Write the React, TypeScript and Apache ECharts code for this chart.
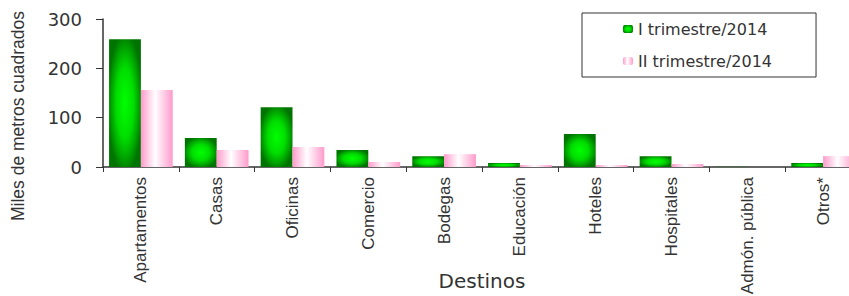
import React, { useEffect, useRef } from "react";
import * as echarts from "echarts";

const categories = [
  "Apartamentos",
  "Casas",
  "Oficinas",
  "Comercio",
  "Bodegas",
  "Educación",
  "Hoteles",
  "Hospitales",
  "Admón. pública",
  "Otros*",
];
const seriesNames = ["I trimestre/2014", "II trimestre/2014"];
const trim1 = [259, 59, 121, 34.5, 22, 8, 67, 22, 0.6, 8];
const trim2 = [156, 34.5, 40.5, 10, 26, 4, 4, 6, 0, 22];
const yTicks = { min: 0, max: 300, interval: 100 };

export default function App() {
  const ref = useRef<HTMLDivElement>(null);
  useEffect(() => {
    if (!ref.current) return;
    const chart = echarts.init(ref.current, undefined, { renderer: "svg" });
    const green = {
      type: "radial",
      x: 0.5,
      y: 0.5,
      r: 0.55,
      colorStops: [
        { offset: 0, color: "#00ff00" },
        { offset: 0.5, color: "#00dd00" },
        { offset: 0.8, color: "#00a000" },
        { offset: 1, color: "#007400" },
      ],
    };
    const pink = {
      type: "linear",
      x: 0,
      y: 0,
      x2: 1,
      y2: 0,
      colorStops: [
        { offset: 0, color: "#ff9acb" },
        { offset: 0.45, color: "#ffffff" },
        { offset: 1, color: "#ff9acb" },
      ],
    };
    chart.setOption({
      animation: false,
      backgroundColor: "#ffffff",
      textStyle: { fontFamily: "Liberation Sans", color: "#333" },
      grid: {
        left: 103,
        right: -12,
        top: 19,
        bottom: 129,
        containLabel: false,
        outerBoundsMode: "none",
      },
      legend: {
        orient: "vertical",
        left: 582,
        top: 13,
        padding: [6, 44, 6, 41],
        itemGap: 12,
        itemWidth: 10,
        itemHeight: 8,
        itemStyle: { borderWidth: 0 },
        borderColor: "#333",
        borderWidth: 1,
        backgroundColor: "#fff",
        textStyle: {
          fontFamily: "DejaVu Sans",
          fontSize: 16,
          color: "#333",
          lineHeight: 20,
        },
        data: seriesNames,
      },
      xAxis: {
        type: "category",
        data: categories,
        name: "Destinos",
        nameLocation: "middle",
        nameGap: 104,
        nameMoveOverlap: false,
        nameTextStyle: { fontFamily: "DejaVu Sans", fontSize: 20, color: "#333" },
        axisLine: { lineStyle: { color: "#333", width: 1.5 } },
        axisTick: { show: true, length: 5, lineStyle: { color: "#333" } },
        axisLabel: {
          rotate: 90,
          margin: 10,
          fontFamily: "Liberation Sans",
          fontSize: 17,
          color: "#333",
          interval: 0,
        },
      },
      yAxis: {
        type: "value",
        min: yTicks.min,
        max: yTicks.max,
        interval: yTicks.interval,
        name: "Miles de metros cuadrados",
        nameLocation: "middle",
        nameGap: 76,
        nameMoveOverlap: false,
        nameRotate: 90,
        nameTextStyle: {
          fontFamily: "Liberation Sans",
          fontSize: 17.5,
          color: "#333",
          padding: [0, 46, 0, 0],
        },
        axisLine: { show: true, lineStyle: { color: "#333", width: 1.5 } },
        axisTick: { show: true, length: 7, lineStyle: { color: "#333" } },
        splitLine: { show: false },
        axisLabel: {
          margin: 21,
          fontFamily: "DejaVu Sans",
          fontSize: 18,
          color: "#333",
        },
      },
      series: [
        {
          name: seriesNames[0],
          type: "bar",
          data: trim1,
          barGap: "0%",
          barCategoryGap: "16%",
          itemStyle: { color: green },
        },
        {
          name: seriesNames[1],
          type: "bar",
          data: trim2,
          barGap: "0%",
          barCategoryGap: "16%",
          itemStyle: { color: pink },
        },
      ],
    });
    return () => chart.dispose();
  }, []);
  return (
    <div
      ref={ref}
      style={{ position: "fixed", left: 0, top: 0, width: 849, height: 296 }}
    />
  );
}
